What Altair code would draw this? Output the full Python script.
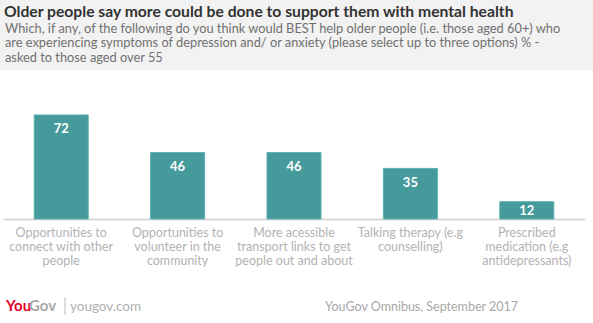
import altair as alt
import pandas as pd

categories = [
    "Opportunities to\nconnect with other\npeople",
    "Opportunities to\nvolunteer in the\ncommunity",
    "More acessible\ntransport links to get\npeople out and about",
    "Talking therapy (e.g\ncounselling)",
    "Prescribed\nmedication (e.g\nantidepressants)",
]
values = [72, 46, 46, 35, 12]

title = "Older people say more could be done to support them with mental health"
subtitle = [
    "Which, if any, of the following do you think would BEST help older people (i.e. those aged 60+) who",
    "are experiencing symptoms of depression and/ or anxiety (please select up to three options) % -",
    "asked to those aged over 55",
]
source = "YouGov Omnibus, September 2017"

df = pd.DataFrame({"cat": categories, "val": values})

FONT = "Lato"
TEAL = "#459a9b"

x = alt.X("cat:N", sort=categories, title=None,
          scale=alt.Scale(paddingInner=0.536, paddingOuter=0.268),
          axis=alt.Axis(labelAngle=0, ticks=False, domainColor="#d0d0d0", domainWidth=1.5,
                        labelColor="#b3b3b3", labelFont=FONT, labelFontSize=12.5,
                        labelPadding=7, labelLineHeight=14, labelLimit=200,
                        labelExpr="split(datum.label, '\\n')"))
y = alt.Y("val:Q", title=None, scale=alt.Scale(domain=[0, 96.2]), axis=None)

bars = alt.Chart(df).mark_bar(color=TEAL, stroke="#5fb0b0", strokeWidth=1).encode(x=x, y=y)

labels = alt.Chart(df).transform_calculate(
    pos="max(datum.val - 10, datum.val * 0.45)"
).mark_text(color="white", font=FONT, fontWeight="bold", fontSize=13, baseline="middle").encode(
    x=alt.X("cat:N", sort=categories),
    y=alt.Y("pos:Q", scale=alt.Scale(domain=[0, 96.2])),
    text="val:Q",
)

header_bg = alt.Chart(df).mark_rect(color="#f2f2f2").encode(
    x=alt.value(-3), x2=alt.value(590), y=alt.value(-80), y2=alt.value(-10)
)

title_mark = alt.Chart(pd.DataFrame({"t": [title]})).mark_text(
    align="left", baseline="alphabetic", font=FONT, fontWeight="bold", fontSize=15.7, color="#333333"
).encode(text="t:N", x=alt.value(1), y=alt.value(-63))

sub_mark = alt.Chart(pd.DataFrame({"t": [subtitle]})).mark_text(
    align="left", baseline="alphabetic", font=FONT, fontSize=12.8, color="#707070", lineHeight=14.3
).encode(text="t:N", x=alt.value(2), y=alt.value(-47))

FY = 231
logo_you = alt.Chart(pd.DataFrame({"t": ["You"]})).mark_text(
    align="left", baseline="alphabetic", font=FONT, fontWeight="bold", fontSize=15, color="#e4002b"
).encode(text="t:N", x=alt.value(3), y=alt.value(FY))
logo_gov = alt.Chart(pd.DataFrame({"t": ["Gov"]})).mark_text(
    align="left", baseline="alphabetic", font=FONT, fontWeight="bold", fontSize=15, color="#a6a6a6"
).encode(text="t:N", x=alt.value(26), y=alt.value(FY))
sep = alt.Chart(pd.DataFrame({"t": ["|"]})).mark_rule(color="#bbbbbb").encode(
    x=alt.value(62), y=alt.value(FY - 14), y2=alt.value(FY + 4)
)
site = alt.Chart(pd.DataFrame({"t": ["yougov.com"]})).mark_text(
    align="left", baseline="alphabetic", font=FONT, fontSize=13.5, color="#b0b0b0"
).encode(text="t:N", x=alt.value(67), y=alt.value(FY))
src = alt.Chart(pd.DataFrame({"t": [source]})).mark_text(
    align="right", baseline="alphabetic", font=FONT, fontSize=12.5, color="#a8a8a8"
).encode(text="t:N", x=alt.value(515), y=alt.value(FY))

chart = alt.layer(header_bg, bars, labels, title_mark, sub_mark, logo_you, logo_gov, sep, site, src).properties(
    width=582, height=139,
    padding={"left": 3, "top": 80, "right": 8, "bottom": 104},
    autosize=alt.AutoSizeParams(type="none"),
    background="white",
).configure_view(stroke=None, clip=False)

chart.save("out.html", embed_options={"renderer": "svg", "actions": False})
